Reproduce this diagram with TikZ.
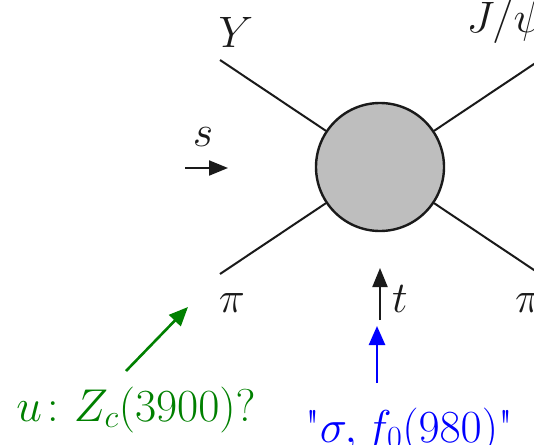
\RequirePackage{fix-cm}
\documentclass[tikz,border=0pt]{standalone}
\usepackage{amsmath, amssymb}
\usepackage{tikz}
\usepackage{xcolor}
\usetikzlibrary{
  positioning, arrows.meta,
}
\definecolor{cLine}  {HTML}{1A1A1A}
\definecolor{cBlob}  {HTML}{BEBEBE}
\definecolor{cZc}    {HTML}{008000}
\definecolor{cSigma} {HTML}{0000FF}
\tikzset{
  leg/.style={cLine, line width=2pt},
  kin/.style={cLine, line width=2pt, -{Triangle[length=19pt,width=15pt]}},
  hint/.style={line width=2.6pt, -{Triangle[length=19pt,width=16pt]}},
  lbl/.style={anchor=base, inner sep=0pt, text=cLine, font=\fontsize{44}{48}\selectfont},
  note/.style={anchor=base, inner sep=0pt, font=\fontsize{46}{50}\selectfont},
}

\begin{document}
\begin{tikzpicture}[x=1pt, y=-1pt]
        \useasboundingbox (0,0) rectangle (534,444);
        \node[circle, draw=cLine, line width=2.4pt, fill=cBlob,
              minimum size=128pt, inner sep=0pt] (blob) at (380,167) {};
        % external legs
        \coordinate (yin)    at (220,60);
        \coordinate (piin)   at (220,274);
        \coordinate (psiout) at (540,60);
        \coordinate (piout)  at (540,274);
        \foreach \e in {yin,piin,psiout,piout}{
          \draw[leg] (\e) -- (blob);
        }
        \node[lbl] (lY)     at (236,48)  {$Y$};
        \node[lbl] (lPsi)   at (505,33)  {$J/\psi$};
        \node[lbl] (lPiIn)  at (232,312) {$\pi$};
        \node[lbl] (lPiOut) at (528,312) {$\pi$};
        % kinematic arrows
        \coordinate (sA) at (185,168);
        \coordinate (sB) at (228,168);
        \draw[kin] (sA) -- (sB);
        \node[lbl] (lS) at (203,146) {$s$};
        \coordinate (tA) at (380,320);
        \coordinate (tB) at (380,268);
        \draw[kin] (tA) -- (tB);
        \node[lbl] (lT) at (400,312) {$t$};
        % exchanged states
        \node[note, text=cZc] (zc) at (136,421) {$u\colon Z_c(3900)?$};
        \coordinate (zcA) at (126,371);
        \coordinate (zcB) at (188,307);
        \draw[hint, cZc] (zcA) -- (zcB);
        \node[note, text=cSigma] (sig) at (409,442)
              {\textquotedbl$\sigma, f_0(980)$\textquotedbl};
        \coordinate (sigA) at (377,383);
        \coordinate (sigB) at (377,326);
        \draw[hint, cSigma] (sigA) -- (sigB);
      \end{tikzpicture}
\end{document}
